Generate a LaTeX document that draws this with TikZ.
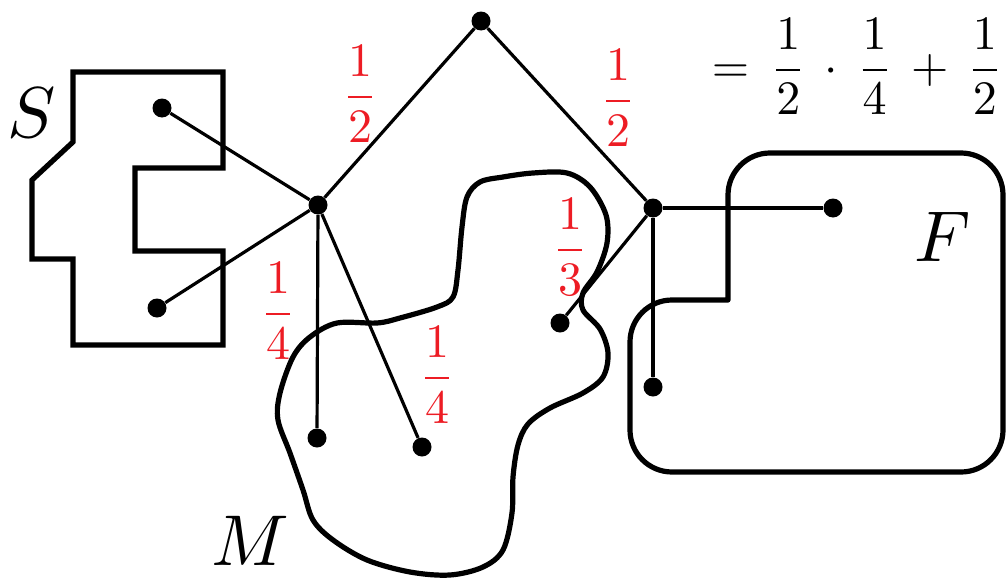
\documentclass[tikz,border=0pt]{standalone}
\usepackage{amsmath}
\usetikzlibrary{positioning}
\definecolor{ProbRed}{RGB}{237,28,36}

\begin{document}
\begin{tikzpicture}[x=0.5pt, y=-0.5pt,
  dot/.style={circle, fill=black, inner sep=0pt, minimum size=9.5pt},
  edge/.style={line width=1.6pt},
  region/.style={line width=2.6pt, line join=round},
  prob/.style={text=ProbRed, inner sep=0pt, scale=2.4},
  setname/.style={inner sep=0pt, scale=3.6}]
  \useasboundingbox (0,0) rectangle (1007,578);
  % the sets S, M and F
  \draw[region, line join=miter] (73,72) -- (223,72) -- (223,168) -- (135,168) -- (135,251) -- (223,251)
    -- (223,345) -- (73,345) -- (73,259) -- (32,259) -- (32,180) -- (73,142) -- cycle;
  \draw[region] plot[smooth cycle, tension=0.55] coordinates {
    (467,197) (480,182) (503,177) (533,173) (567,173) (590,187) (606,215) (607,243) (597,272)
    (583,293) (583,310) (600,329) (608,353) (603,377) (583,393) (550,408) (528,424) (518,445)
    (513,477) (512,513) (503,550) (483,567) (450,575) (410,572) (367,560) (333,540) (313,520)
    (303,490) (290,453) (278,420) (280,393) (293,357) (310,337) (337,323) (377,323) (400,318)
    (437,307) (453,297) (458,270) (462,227)};
  \draw[region, rounded corners=21pt] (728,260) -- (728,153) -- (1003,153) -- (1003,472) -- (630,472)
    -- (630,300) [sharp corners] -- (728,300) -- cycle;
  \node[setname] (nameS) at (32,113) {$S$};
  \node[setname] (nameM) at (250,541) {$M$};
  \node[setname] (nameF) at (943,237) {$F$};
  % vertices
  \node[dot] (top) at (481,21) {};
  \node[dot] (hubS) at (318,205) {};
  \node[dot] (hubF) at (653,208) {};
  \node[dot] (s1) at (162,108) {};
  \node[dot] (s2) at (157,308) {};
  \node[dot] (m1) at (317,438) {};
  \node[dot] (m2) at (422,447) {};
  \node[dot] (m3) at (560,323) {};
  \node[dot] (f1) at (833,208) {};
  \node[dot] (f2) at (653,387) {};
  % walk edges
  \draw[edge] (top) -- (hubS);
  \draw[edge] (top) -- (hubF);
  \draw[edge] (hubS) -- (s1);
  \draw[edge] (hubS) -- (s2);
  \draw[edge] (hubS) -- (m1);
  \draw[edge] (hubS) -- (m2);
  \draw[edge] (hubF) -- (f1);
  \draw[edge] (hubF) -- (f2);
  \draw[edge] (hubF) -- (m3);
  % probabilities
  \node[prob] (pS) at (360,94) {$\dfrac{1}{2}$};
  \node[prob] (pF) at (618,98) {$\dfrac{1}{2}$};
  \node[prob] (pSm1) at (278,311) {$\dfrac{1}{4}$};
  \node[prob] (pSm2) at (437,375) {$\dfrac{1}{4}$};
  \node[prob] (pFm) at (570,247) {$\dfrac{1}{3}$};
  \node[anchor=base west, inner sep=0pt, scale=2.4] (total) at (711,82)
    {$=\,\dfrac{1}{2}\,\cdot\,\dfrac{1}{4}\,+\,\dfrac{1}{2}$};
\end{tikzpicture}
\end{document}
